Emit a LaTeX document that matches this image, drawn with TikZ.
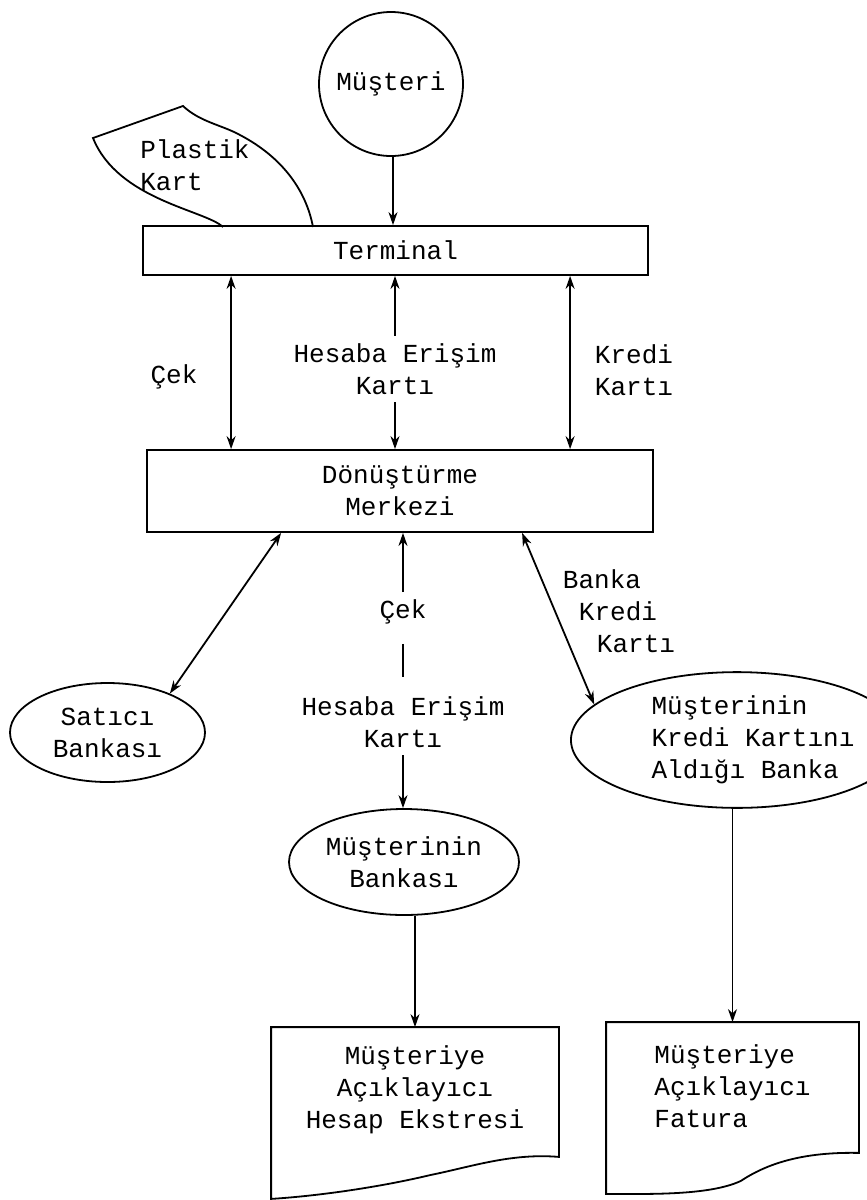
\documentclass[tikz,border=0pt]{standalone}
\usepackage{fontspec}
\setmainfont{Liberation Mono}
\usetikzlibrary{arrows.meta,calc,shapes.geometric}

\begin{document}
\begin{tikzpicture}[x=0.5pt,y=-0.5pt,line width=0.9pt,
        font=\fontsize{13}{16}\selectfont,
        >={Stealth[length=6.5pt,width=4.5pt]},
        kutu/.style={draw,rectangle,inner sep=0pt,align=center},
        elips/.style={draw,ellipse,inner sep=0pt,align=center},
        etiket/.style={align=center},
        belge/.style={inner sep=0pt,align=center}]
        \useasboundingbox (0,0) rectangle (867,1200);

        % Müşteri ve terminal
        \node[draw,circle,minimum size=72pt,inner sep=0pt] (musteri) at (391,84) {Müşteri\\[22pt]};
        \node[kutu,minimum width=252.5pt,minimum height=24.5pt] (terminal) at (395.5,250.5) {Terminal};
        \draw[->] (musteri.south -| 393,0) -- (terminal.north -| 393,0);

        % Plastik kart
        \draw (223,227) .. controls (205,210) and (118,200) .. (93,138) -- (183,106)
              .. controls (200,122) and (222,125) .. (240,135)
              .. controls (282,157) and (306,190) .. (313,227);
        \node[align=left] (kart) at (195,165) {Plastik\\Kart};

        % Dönüştürme merkezi
        \node[kutu,minimum width=253pt,minimum height=41pt] (donusturme) at (400,491) {Dönüştürme\\Merkezi};

        % Terminal ile merkez arası
        \node[etiket] (cek1) at (174,377) {Çek};
        \node[etiket] (hesaba1) at (395,369) {Hesaba Erişim\\Kartı};
        \node[align=left] (kredi1) at (634,370) {Kredi\\Kartı};
        \draw[<->] ($(terminal.south west)+(89,0)$) coordinate (sol1) -- (sol1 |- donusturme.north);
        \draw[->] (hesaba1.north) -- (hesaba1.north |- terminal.south);
        \draw[->] (hesaba1.south) -- (hesaba1.south |- donusturme.north);
        \draw[<->] ($(terminal.south west)+(428,0)$) coordinate (sag1) -- (sag1 |- donusturme.north);

        % Bankalar
        \node[elips,minimum width=97.5pt,minimum height=49.5pt] (satici) at (107.5,732.5) {Satıcı\\Bankası};
        \node[elips,minimum width=115pt,minimum height=53pt] (bankasi) at (404,862) {Müşterinin\\Bankası};
        \node[elips,minimum width=130pt,minimum height=67.5pt] (kredibanka) at (737,740)
            {\begin{tabular}{@{\hspace{16pt}}l@{}}Müşterinin\\Kredi Kartını\\Aldığı Banka\end{tabular}};

        \draw[<->] ($(donusturme.south west)+(135,0)$) -- (satici.32);

        \node[etiket] (cek2) at (403,612) {Çek};
        \node[etiket] (hesaba2) at (403,722) {Hesaba Erişim\\Kartı};
        \draw[->] (cek2.north) -- (cek2.north |- donusturme.south);
        \draw ($(cek2.south)+(0,12)$) -- ($(hesaba2.north)+(0,-12)$);
        \draw[->] (hesaba2.south) -- (hesaba2.south |- bankasi.north);

        \node[align=left] (banka1) at (619,611) {Banka\\\hspace*{8pt}Kredi\\\hspace*{17pt}Kartı};
        \draw[<->] ($(donusturme.south west)+(376,0)$) -- (kredibanka.166);

        % Ekstre ve fatura
        \node[belge,minimum width=143pt,minimum height=62pt] (ekstre) at (415,1090) {Müşteriye\\Açıklayıcı\\Hesap Ekstresi};
        \draw (ekstre.north west) -- (ekstre.north east) -- ($(ekstre.south east)+(0,4)$)
              .. controls ($(ekstre.south east)+(-48,0)$) and ($(ekstre.south east)+(-88,14)$) .. ($(ekstre.south east)+(-128,22)$)
              .. controls ($(ekstre.south east)+(-178,34)$) and ($(ekstre.south west)+(48,43)$) .. ($(ekstre.south west)+(0,46)$)
              -- cycle;
        \node[belge,minimum width=125.5pt,minimum height=66pt] (fatura) at (732.5,1089)
            {\begin{tabular}{@{}l@{}}Müşteriye\\Açıklayıcı\\Fatura\end{tabular}};
        \draw (fatura.north west) -- (fatura.north east) -- ($(fatura.south east)+(0,-3)$)
              .. controls ($(fatura.south east)+(-50,-4)$) and ($(fatura.south east)+(-88,5)$) .. ($(fatura.south east)+(-118,25)$)
              .. controls ($(fatura.south east)+(-150,40)$) and ($(fatura.south west)+(40,38)$) .. ($(fatura.south west)+(0,38)$)
              -- cycle;

        \draw[->] (bankasi.south -| ekstre.north) -- (ekstre.north);
        \draw[->] (kredibanka.south -| fatura.north) -- (fatura.north);
    \end{tikzpicture}
\end{document}
